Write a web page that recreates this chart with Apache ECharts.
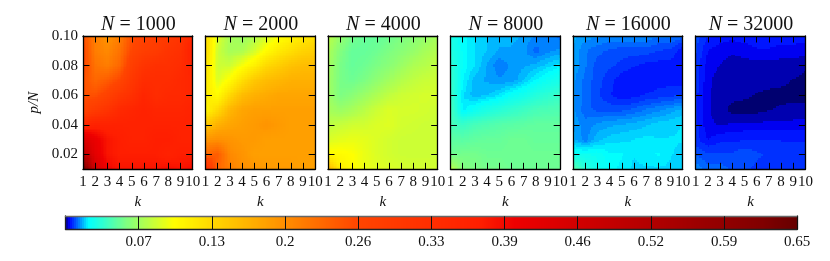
<!DOCTYPE html>
<html><head><meta charset="utf-8">
<style>html,body{margin:0;padding:0;background:#fff}#c{width:830px;height:261px}</style>
<script src="https://cdn.jsdelivr.net/npm/echarts@6/dist/echarts.min.js"></script>
</head><body><div id="c"></div>
<script>
const kValues = [1,2,3,4,5,6,7,8,9,10];
const pValues = [0.10,0.09,0.08,0.07,0.06,0.05,0.04,0.03,0.02,0.01];
const yTicks = [0.02,0.04,0.06,0.08,0.10];
const sizes = [1000,2000,4000,8000,16000,32000];
const cbarTicks = [0.065,0.13,0.195,0.26,0.325,0.39,0.455,0.52,0.585,0.65];
const cbarLabels = ['0.07','0.13','0.2','0.26','0.33','0.39','0.46','0.52','0.59','0.65'];
const N1000 = [
[.25,.21,.19,.21,.25,.27,.28,.29,.31,.35],
[.26,.21,.20,.22,.26,.28,.29,.31,.32,.37],
[.26,.22,.21,.23,.28,.31,.32,.32,.33,.36],
[.25,.23,.24,.26,.30,.33,.33,.33,.34,.35],
[.25,.25,.27,.30,.32,.35,.33,.34,.34,.35],
[.27,.29,.31,.34,.35,.36,.35,.35,.35,.36],
[.35,.36,.36,.36,.36,.36,.36,.36,.36,.36],
[.44,.41,.38,.37,.36,.36,.37,.37,.36,.36],
[.50,.42,.38,.37,.37,.37,.37,.36,.37,.37],
[.64,.46,.40,.38,.38,.38,.38,.39,.38,.39]];
const N2000 = [
[.13,.085,.068,.064,.07,.082,.095,.105,.115,.125],
[.13,.08,.068,.07,.082,.10,.115,.125,.135,.14],
[.125,.08,.08,.095,.11,.13,.14,.15,.155,.155],
[.12,.085,.10,.125,.145,.155,.16,.165,.165,.165],
[.115,.10,.13,.155,.165,.17,.175,.175,.175,.175],
[.105,.13,.16,.175,.18,.18,.18,.18,.18,.18],
[.145,.165,.175,.18,.185,.19,.185,.18,.18,.18],
[.19,.195,.19,.185,.185,.18,.18,.18,.18,.18],
[.23,.24,.20,.19,.18,.18,.18,.18,.18,.18],
[.33,.23,.21,.195,.19,.185,.185,.185,.18,.18]];
const N4000 = [
[.075,.062,.052,.048,.048,.05,.054,.058,.062,.068],
[.07,.056,.048,.048,.05,.054,.058,.062,.068,.072],
[.068,.053,.048,.05,.054,.058,.064,.07,.073,.077],
[.066,.053,.05,.054,.06,.066,.072,.076,.079,.08],
[.066,.054,.058,.064,.07,.076,.08,.082,.083,.083],
[.068,.064,.068,.074,.08,.085,.083,.083,.082,.08],
[.075,.078,.081,.082,.085,.086,.082,.081,.08,.08],
[.085,.088,.09,.088,.085,.082,.08,.08,.08,.08],
[.10,.10,.097,.09,.085,.082,.08,.08,.08,.08],
[.165,.112,.10,.09,.087,.085,.083,.082,.082,.082]];
const N8000 = [
[.028,.022,.019,.017,.016,.016,.015,.013,.013,.011],
[.03,.022,.019,.017,.015,.015,.014,.011,.013,.014],
[.033,.022,.019,.015,.012,.014,.015,.016,.018,.02],
[.035,.021,.016,.015,.014,.014,.017,.021,.024,.027],
[.037,.019,.016,.017,.019,.023,.026,.03,.033,.036],
[.04,.02,.024,.028,.031,.034,.037,.04,.041,.042],
[.04,.036,.04,.042,.044,.045,.046,.047,.047,.047],
[.046,.045,.047,.048,.048,.05,.05,.048,.048,.048],
[.05,.052,.052,.05,.05,.05,.05,.05,.05,.05],
[.075,.056,.054,.052,.052,.05,.05,.05,.05,.05]];
const N16000 = [
[.016,.014,.014,.013,.013,.013,.013,.012,.012,.0105],
[.015,.012,.0105,.0095,.009,.009,.009,.008,.0075,.005],
[.015,.012,.009,.0085,.0075,.0065,.0055,.0055,.0055,.005],
[.014,.011,.009,.007,.005,.0045,.0048,.0055,.0055,.0055],
[.014,.011,.0085,.0065,.005,.0055,.0065,.007,.0075,.008],
[.014,.0105,.0095,.0095,.0095,.0105,.012,.013,.0145,.016],
[.015,.0125,.014,.015,.0155,.016,.017,.018,.0185,.019],
[.016,.0125,.0165,.018,.0185,.019,.0195,.019,.019,.019],
[.024,.024,.024,.021,.021,.019,.02,.021,.019,.0185],
[.045,.032,.025,.022,.02,.0185,.0185,.0185,.0185,.0185]];
const N32000 = [
[.009,.0065,.0055,.005,.0055,.006,.006,.0055,.0055,.0055],
[.0085,.0045,.0036,.003,.0035,.0042,.0042,.0038,.0038,.0035],
[.0075,.0036,.0026,.0018,.0018,.002,.002,.0018,.0018,.0012],
[.0075,.0032,.0018,.0016,.0016,.0016,.0016,.0014,.0008,.0004],
[.007,.003,.0018,.0014,.0012,.0008,.0004,.0003,.0003,.0002],
[.007,.003,.0016,.0003,.0002,.0003,.0008,.0012,.0016,.0018],
[.007,.0032,.0025,.003,.0032,.0032,.0032,.0032,.0032,.0034],
[.0072,.0045,.0058,.006,.0062,.0065,.0065,.0062,.0062,.0062],
[.0095,.0085,.0085,.0085,.0095,.0085,.0078,.0075,.0075,.0075],
[.0135,.0105,.011,.0095,.0085,.0075,.0075,.0065,.0065,.0065]];
const panels = [N1000,N2000,N4000,N8000,N16000,N32000];

// colour scale: filled-contour steps, coarser at the low end
const VMAX = 0.65, SUB = 8, LOW_STEP = 0.0018, LOW_END = 0.025, HIGH_STEP = 0.001;
const stops = [[0,'#000070'],[.004,'#0000ff'],[.021,'#00ffff'],[.055,'#80ff80'],[.097,'#ffff00'],[.175,'#ffa500'],[.26,'#ff4500'],[.37,'#ff1e00'],[.40,'#ee0000'],[.62,'#800000'],[.65,'#660000']];
function colorOf(v){
  const step=v<LOW_END?LOW_STEP:HIGH_STEP;
  const q=Math.round(Math.max(v,0)/step)*step;
  for(let i=1;i<stops.length;i++){
    if(q<=stops[i][0]){
      const f=(q-stops[i-1][0])/(stops[i][0]-stops[i-1][0]);
      return echarts.color.lerp(f,[stops[i-1][1],stops[i][1]]);
    }
  }
  return stops[stops.length-1][1];
}
// layout
const FONT='"Liberation Serif",serif', TXT='#111';
const lefts=[83,205.5,328,450.5,573,695.7], W=109.7, TOP=36, H=133.3;
const CB={left:65.5,top:216,width:731.7,height:13.3};

function renderCell(params,api){
  const k=api.value(0),p=api.value(1),a=api.value(2),b=api.value(3),c=api.value(4),d=api.value(5);
  const children=[];
  const pt=(x,y)=>api.coord([k+x,p-y*0.01]);
  for(let i=0;i<SUB;i++)for(let j=0;j<SUB;j++){
    const p0=pt(i/SUB,j/SUB),p1=pt((i+1)/SUB,(j+1)/SUB);
    const u=(i+.5)/SUB,w=(j+.5)/SUB;
    const v=a*(1-u)*(1-w)+b*u*(1-w)+c*(1-u)*w+d*u*w;
    const x0=Math.round(p0[0]),y0=Math.round(p0[1]),x1=Math.round(p1[0]),y1=Math.round(p1[1]);
    if(x1>x0&&y1>y0)children.push({type:'rect',silent:true,shape:{x:x0,y:y0,width:x1-x0,height:y1-y0},style:{fill:colorOf(v)}});
  }
  return {type:'group',children};
}
function cells(tbl){
  const out=[];
  for(let r=0;r<pValues.length-1;r++)for(let c=0;c<kValues.length-1;c++)
    out.push([kValues[c],pValues[r],tbl[r][c],tbl[r][c+1],tbl[r+1][c],tbl[r+1][c+1]]);
  return out;
}
const line={show:true,onZero:false,lineStyle:{color:'#000',width:1.3}};
const tick={show:true,inside:true,length:6.5,lineStyle:{color:'#000',width:1}};
const lbl={color:TXT,fontFamily:FONT,fontSize:15};
const grids=[],xAxes=[],yAxes=[],series=[],titles=[];
panels.forEach((tbl,i)=>{
  grids.push({left:lefts[i],top:TOP,width:W,height:H});
  const xb={type:'value',min:1,max:10,interval:1,gridIndex:i,z:5,splitLine:{show:false},axisLine:line,axisTick:tick};
  xAxes.push({...xb,position:'bottom',axisLabel:{...lbl,margin:5,hideOverlap:false,showMinLabel:true,showMaxLabel:true},
    name:'k',nameLocation:'middle',nameGap:19,nameTextStyle:{...lbl,fontStyle:'italic',fontSize:15}});
  xAxes.push({...xb,position:'top',axisLabel:{show:false}});
  const yb={type:'value',min:0.01,max:0.10,gridIndex:i,z:5,splitLine:{show:false},axisLine:line};
  const yt={...tick,customValues:yTicks};
  yAxes.push({...yb,position:'left',axisTick:yt,axisLabel:i===0?{...lbl,margin:5,customValues:yTicks,formatter:v=>v.toFixed(2)}:{show:false},
    ...(i===0?{name:'p/N',nameLocation:'middle',nameGap:41,nameRotate:90,nameTextStyle:{...lbl,fontStyle:'italic',fontSize:15}}:{})});
  yAxes.push({...yb,position:'right',axisTick:yt,axisLabel:{show:false}});
  series.push({type:'custom',xAxisIndex:2*i,yAxisIndex:2*i,z:1,silent:true,encode:{x:0,y:1},renderItem:renderCell,data:cells(tbl)});
  titles.push({text:'{i|N}{r| = '+sizes[i]+'}',left:lefts[i]+W/2-4.5,top:10,textAlign:'center',
    textStyle:{fontWeight:'normal',rich:{i:{fontFamily:FONT,fontStyle:'italic',fontWeight:'normal',fontSize:20,color:TXT},r:{fontFamily:FONT,fontWeight:'normal',fontSize:20,color:TXT}}}});
});
// colour bar
grids.push(CB);
const cbIdx=panels.length;
const cbarSteps=[];
for(let s=0;s<731;s++)cbarSteps.push([(s+.5)/731*VMAX]);
const cbLine={show:true,onZero:false,lineStyle:{color:'#222',width:1.3}};
xAxes.push({type:'value',gridIndex:cbIdx,min:0,max:VMAX,position:'bottom',z:5,splitLine:{show:false},axisLine:cbLine,
  axisTick:{show:true,inside:true,length:13,customValues:cbarTicks,lineStyle:{color:'#111',width:1}},
  axisLabel:{...lbl,margin:5,customValues:cbarTicks,hideOverlap:false,showMaxLabel:true,formatter:v=>{
    const i=cbarTicks.findIndex(t=>Math.abs(t-v)<1e-6);return i<0?'':cbarLabels[i];}}});
xAxes.push({type:'value',gridIndex:cbIdx,min:0,max:VMAX,position:'top',z:5,splitLine:{show:false},axisLine:{...cbLine,lineStyle:{color:'#666',width:1.3}},axisTick:{show:false},axisLabel:{show:false}});
yAxes.push({type:'value',gridIndex:cbIdx,min:0,max:1,position:'left',z:5,splitLine:{show:false},axisLine:cbLine,axisTick:{show:false},axisLabel:{show:false}});
yAxes.push({type:'value',gridIndex:cbIdx,min:0,max:1,position:'right',z:5,splitLine:{show:false},axisLine:cbLine,axisTick:{show:false},axisLabel:{show:false}});
series.push({type:'custom',xAxisIndex:2*cbIdx,yAxisIndex:2*cbIdx,z:1,silent:true,encode:{x:0},data:cbarSteps,
  renderItem(params,api){
    const v=api.value(0),d=VMAX/731;
    const p0=api.coord([v-d/2,1]),p1=api.coord([v+d/2,0]);
    const x0=Math.floor(p0[0]),x1=Math.ceil(p1[0]);
    return {type:'rect',silent:true,shape:{x:x0,y:p0[1],width:x1-x0,height:p1[1]-p0[1]},style:{fill:colorOf(v)}};
  }});
const chart=echarts.init(document.getElementById('c'),null,{renderer:'canvas'});
chart.setOption({animation:false,backgroundColor:'#fff',title:titles,grid:grids,xAxis:xAxes,yAxis:yAxes,series});
</script></body></html>
